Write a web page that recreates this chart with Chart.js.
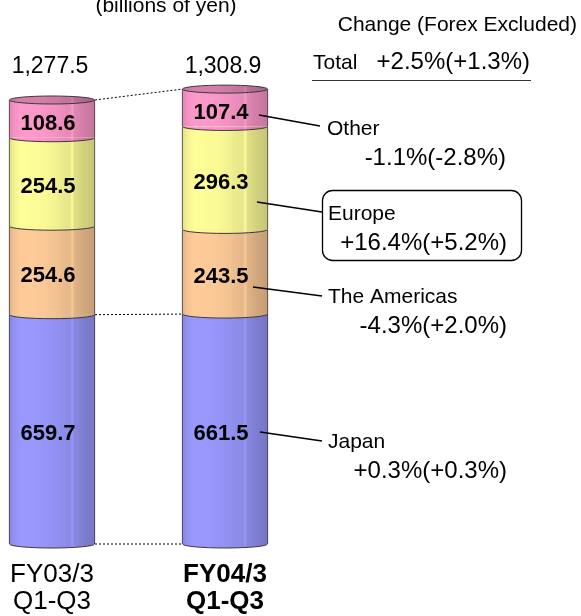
<!DOCTYPE html>
<html>
<head>
<meta charset="utf-8">
<script src="https://cdn.jsdelivr.net/npm/chart.js@4"></script>
<style>
  html, body { margin: 0; padding: 0; background: #fff; }
  canvas { display: block; }
</style>
</head>
<body>
<canvas id="c" width="581" height="616"></canvas>
<script>
// Net sales by region, billions of yen
const categories = [['FY03/3', 'Q1-Q3'], ['FY04/3', 'Q1-Q3']];
const regions = ['Japan', 'The Americas', 'Europe', 'Other'];
const japan = [659.7, 661.5];
const americas = [254.6, 243.5];
const europe = [254.5, 296.3];
const other = [108.6, 107.4];
const totals = [1277.5, 1308.9];
const totalChange = '+2.5%(+1.3%)';
const regionChanges = ['+0.3%(+0.3%)', '-4.3%(+2.0%)', '+16.4%(+5.2%)', '-1.1%(-2.8%)'];

const FONT = "'Liberation Sans', Arial, Helvetica, sans-serif";
const BAR_W = 86;
const BASE_RGB = [
  [153, 153, 255],  // Japan
  [255, 204, 153],  // The Americas
  [255, 255, 153],  // Europe
  [255, 153, 204]   // Other
];

function shade(rgb, f) {
  return 'rgb(' + rgb.map(v => Math.max(0, Math.min(255, Math.round(v * f)))).join(',') + ')';
}

// Horizontal shading that gives each stack segment a faceted cylinder look
function faceGradient(ctx, x0, w, rgb, k) {
  k = k || 1;
  if (!isFinite(x0) || !isFinite(w)) return shade(rgb, k);
  const g = ctx.createLinearGradient(x0, 0, x0 + w, 0);
  const stops = [[0, 0.86], [0.05, 0.94], [0.14, 1.0], [0.4, 0.98], [0.55, 0.95],
                 [0.62, 0.92], [0.71, 0.9], [0.735, 0.99], [0.76, 0.88], [0.87, 0.82], [1, 0.77]];
  stops.forEach(([p, f]) => g.addColorStop(p, shade(rgb, f * k)));
  return g;
}

function segmentFill(idx) {
  return (ctx) => {
    const chart = ctx.chart;
    const xs = chart.scales && chart.scales.x;
    if (!xs || ctx.type !== 'data') return shade(BASE_RGB[idx], 1);
    const cx = xs.getPixelForValue(ctx.dataIndex);
    return faceGradient(chart.ctx, cx - BAR_W / 2, BAR_W, BASE_RGB[idx]);
  };
}

const seriesValues = [japan, americas, europe, other];
const datasets = seriesValues.map((vals, i) => ({
  label: regions[i],
  data: vals,
  backgroundColor: segmentFill(i),
  borderColor: '#3a3a3a',
  borderWidth: { left: 1, right: 1, top: 0, bottom: 0 },
  borderSkipped: false,
  barThickness: BAR_W,
  clip: false
}));

// Callout layout for the regional change notes
const callouts = [
  { line: [260, 432, 322, 441], name: [328, 448], change: [507, 478] },   // Japan
  { line: [253, 287, 322, 296], name: [328, 303], change: [507, 333] },   // The Americas
  { line: [257, 202, 322, 212], name: [328, 220], change: [507, 250] },   // Europe
  { line: [259, 115, 320, 126], name: [327, 135], change: [506, 165] }    // Other
];

const cylinderPlugin = {
  id: 'cylinders',
  afterDatasetsDraw(chart) {
    const ctx = chart.ctx;
    const metas = chart.data.datasets.map((d, i) => chart.getDatasetMeta(i));
    const n = chart.data.labels.length;

    ctx.save();
    // dotted connectors between the two stacks
    ctx.strokeStyle = '#000';
    ctx.lineWidth = 1;
    ctx.setLineDash([2, 2]);
    const a = (m, i) => m.data[i];
    const top = metas[metas.length - 1];
    const pairs = [
      [a(top, 0).y, a(top, 1).y],
      [a(metas[0], 0).y, a(metas[0], 1).y],
      [a(metas[0], 0).base, a(metas[0], 1).base]
    ];
    pairs.forEach(([y0, y1]) => {
      const e0 = a(metas[0], 0), e1 = a(metas[0], 1);
      ctx.beginPath();
      ctx.moveTo(e0.x + e0.width / 2, y0);
      ctx.lineTo(e1.x - e1.width / 2, y1);
      ctx.stroke();
    });
    ctx.setLineDash([]);

    for (let i = 0; i < n; i++) {
      metas.forEach((meta, d) => {
        const el = meta.data[i];
        const hw = el.width / 2;
        // rounded lower rim of the segment
        ctx.beginPath();
        ctx.ellipse(el.x, el.base, hw - 0.5, 4, 0, 0, Math.PI);
        ctx.closePath();
        ctx.fillStyle = faceGradient(ctx, el.x - hw, el.width, BASE_RGB[d]);
        ctx.fill();
        ctx.beginPath();
        ctx.ellipse(el.x, el.base, hw - 0.5, 4, 0, 0, Math.PI);
        ctx.strokeStyle = '#3a3a3a';
        ctx.lineWidth = 1;
        ctx.stroke();
      });
      // top face of the stack
      const tEl = metas[metas.length - 1].data[i];
      const thw = tEl.width / 2;
      ctx.beginPath();
      ctx.ellipse(tEl.x, tEl.y, thw - 0.5, 4, 0, 0, Math.PI * 2);
      ctx.fillStyle = faceGradient(ctx, tEl.x - thw, tEl.width, BASE_RGB[metas.length - 1], 0.84);
      ctx.fill();
      ctx.strokeStyle = '#3a3a3a';
      ctx.stroke();
    }

    // values inside the segments
    ctx.fillStyle = '#000';
    ctx.font = 'bold 22px ' + FONT;
    ctx.textAlign = 'center';
    ctx.textBaseline = 'middle';
    metas.forEach((meta, d) => {
      meta.data.forEach((el, i) => {
        const v = chart.data.datasets[d].data[i];
        ctx.fillText(v.toFixed(1), el.x - 4, (el.y + el.base) / 2 + 5);
      });
    });

    // stack totals
    ctx.font = '23px ' + FONT;
    ctx.textBaseline = 'alphabetic';
    totals.forEach((t, i) => {
      const el = metas[0].data[i];
      ctx.fillText(t.toLocaleString('en-US', { minimumFractionDigits: 1, maximumFractionDigits: 1 }), el.x - 2, 73);
    });

    // unit note and change header
    ctx.font = '21px ' + FONT;
    ctx.fillText('(billions of yen)', 166, 12);
    ctx.textAlign = 'right';
    ctx.fillText('Change (Forex Excluded)', 577, 31);

    // total change with underline
    ctx.textAlign = 'left';
    ctx.fillText('Total', 313, 69);
    ctx.textAlign = 'right';
    ctx.font = '24px ' + FONT;
    ctx.fillText(totalChange, 530, 69);
    ctx.beginPath();
    ctx.moveTo(312, 80.5);
    ctx.lineTo(531, 80.5);
    ctx.strokeStyle = '#333';
    ctx.lineWidth = 1;
    ctx.stroke();

    // regional callouts
    callouts.forEach((c, r) => {
      ctx.beginPath();
      ctx.moveTo(c.line[0], c.line[1]);
      ctx.lineTo(c.line[2], c.line[3]);
      ctx.strokeStyle = '#000';
      ctx.lineWidth = 1.5;
      ctx.stroke();
      ctx.textAlign = 'left';
      ctx.font = '21px ' + FONT;
      ctx.fillText(regions[r], c.name[0], c.name[1]);
      ctx.textAlign = 'right';
      ctx.font = '24px ' + FONT;
      ctx.fillText(regionChanges[r], c.change[0], c.change[1]);
    });

    // frame around the Europe note
    ctx.beginPath();
    ctx.roundRect(322.5, 190.5, 199, 70, 10);
    ctx.strokeStyle = '#000';
    ctx.lineWidth = 1.3;
    ctx.stroke();
    ctx.restore();
  }
};

new Chart(document.getElementById('c'), {
  type: 'bar',
  data: { labels: categories, datasets },
  options: {
    responsive: false,
    animation: false,
    devicePixelRatio: 1,
    layout: { padding: { left: 52, right: 356, top: 40, bottom: 0 } },
    plugins: { legend: { display: false }, tooltip: { enabled: false } },
    scales: {
      x: {
        stacked: true,
        offset: false,
        grid: { display: false, drawTicks: false, offset: false },
        border: { display: false },
        ticks: {
          padding: 17,
          color: '#000',
          autoSkip: false,
          maxRotation: 0,
          font: (c) => ({ family: FONT, size: 26, lineHeight: 27 / 26, weight: c.index === 1 ? 'bold' : 'normal' })
        },
        afterFit: (s) => {
          s.height = 72;
          s.paddingLeft = 0;
          s.paddingRight = 0;
        }
      },
      y: { stacked: true, display: false, min: 0, max: 1450 }
    }
  },
  plugins: [cylinderPlugin]
});
</script>
</body>
</html>
